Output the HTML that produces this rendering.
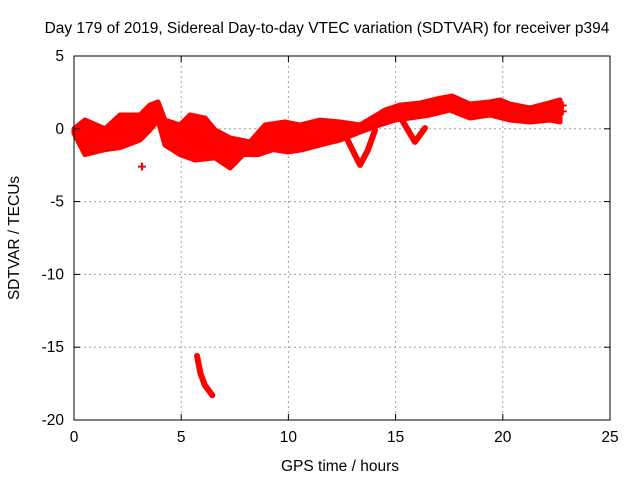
<!DOCTYPE html>
<html><head><meta charset="utf-8"><style>
body{margin:0;background:#fff;font-family:"Liberation Sans",sans-serif}
svg text{font-family:"Liberation Sans",sans-serif;font-size:15.5px;fill:#000}
</style></head><body>
<svg id="c" width="640" height="480" viewBox="0 0 640 480">
<rect width="640" height="480" fill="#fff"/>
<text x="327" y="33" text-anchor="middle">Day 179 of 2019, Sidereal Day-to-day VTEC variation (SDTVAR) for receiver p394</text>
<text x="340" y="471" text-anchor="middle">GPS time / hours</text>
<text transform="translate(19,238) rotate(-90)" text-anchor="middle">SDTVAR / TECUs</text>
<g id="grid"></g><g id="data"></g><g id="axes"></g>
</svg>
<script>
const xTicks=[0,5,10,15,20,25];
const yTicks=[5,0,-5,-10,-15,-20];
const upperT=[0,.51,1.45,2.15,3.08,3.54,3.92,4.24,4.94,5.41,6.11,6.58,7.28,8.21,8.91,9.84,10.54,11.47,12.41,13.34,14.51,15.2,16.14,17.07,17.63,18.47,19.4,19.87,20.34,21.27,21.97,22.67];
const upperV=[0,.6,0,.95,.95,1.63,1.84,.6,.26,.95,.74,-.08,-.63,-.9,.26,.47,.26,.6,.47,.26,1.29,1.63,1.77,2.1,2.25,1.7,1.84,1.98,1.7,1.43,1.7,1.98];
const lowerT=[0,.51,1.45,2.15,3.08,3.54,3.92,4.24,4.94,5.63,6.58,7.28,7.89,8.58,9.28,9.98,10.68,11.47,12.41,13.34,14.25,14.97,15.67,16.6,17.53,18.47,19.4,20.34,21.27,22.2,22.67];
const lowerV=[-.3,-1.77,-1.43,-1.29,-.77,-.08,.6,-1.11,-1.77,-2.14,-2.0,-2.69,-1.77,-1.77,-1.43,-1.59,-1.43,-1.11,-.77,-.22,.26,.6,.74,.95,1.29,.74,.95,.6,.47,.6,.47];
const dip1T=[12.7,13.34,13.7,14.04], dip1V=[-.6,-2.48,-1.49,-.1];
const dip2T=[15.3,15.9,16.37], dip2V=[.6,-.9,.05];
const tailT=[5.74,5.9,6.1,6.45], tailV=[-15.6,-16.8,-17.6,-18.3];
const isoT=[3.17,22.8,22.8], isoV=[-2.6,1.6,1.2];
const X0=74,X1=610,Y0=56,Y1=420;
const sx=t=>X0+(t-0)/25*(X1-X0);
const sy=v=>Y0+(5-v)/25*(Y1-Y0);
const NS='http://www.w3.org/2000/svg';
function mk(tag,at,parent){const e=document.createElementNS(NS,tag);for(const k in at)e.setAttribute(k,at[k]);parent.appendChild(e);return e;}
const grid=document.getElementById('grid'),data=document.getElementById('data'),axes=document.getElementById('axes');
xTicks.forEach(t=>{
 if(t>0&&t<25){const g=mk('line',{x1:sx(t),x2:sx(t),y1:Y0,y2:Y1,stroke:'#a0a0a0','stroke-dasharray':'2,3'},grid);
 
 }
 mk('line',{x1:sx(t),x2:sx(t),y1:Y1,y2:Y1-6,stroke:'#000'},axes);
 mk('line',{x1:sx(t),x2:sx(t),y1:Y0,y2:Y0+6,stroke:'#000'},axes);
 const l=mk('text',{x:sx(t),y:Y1+22,'text-anchor':'middle'},axes);l.textContent=t;
 
 
});
yTicks.forEach(v=>{
 if(v<5&&v>-20){const g=mk('line',{x1:X0,x2:X1,y1:sy(v),y2:sy(v),stroke:'#a0a0a0','stroke-dasharray':'2,3'},grid);
 
 }
 mk('line',{x1:X0,x2:X0+6,y1:sy(v),y2:sy(v),stroke:'#000'},axes);
 mk('line',{x1:X1,x2:X1-6,y1:sy(v),y2:sy(v),stroke:'#000'},axes);
 const l=mk('text',{x:X0-10,y:sy(v)+5,'text-anchor':'end'},axes);l.textContent=v;
 
 
});
const fr=mk('rect',{x:X0,y:Y0,width:X1-X0,height:Y1-Y0,fill:'none',stroke:'#000'},axes);


let pts=upperT.map((t,i)=>sx(t)+','+sy(upperV[i]));
for(let i=lowerT.length-1;i>=0;i--)pts.push(sx(lowerT[i])+','+sy(lowerV[i]));
const band=mk('polygon',{points:pts.join(' '),fill:'#ff0000',stroke:'#ff0000','stroke-width':5,'stroke-linejoin':'round'},data);


[[dip1T,dip1V,'dip-13h'],[dip2T,dip2V,'dip-16h'],[tailT,tailV,'outlier-tail']].forEach(([T,V,n])=>{
 const p=mk('polyline',{points:T.map((t,i)=>sx(t)+','+sy(V[i])).join(' '),fill:'none',stroke:'#ff0000','stroke-width':6,'stroke-linejoin':'round','stroke-linecap':'round'},data);
 
 
});
isoT.forEach((t,i)=>{
 const x=sx(t),y=sy(isoV[i]);
 const p=mk('path',{d:`M${x-4},${y}H${x+4}M${x},${y-4}V${y+4}`,stroke:'#ff0000','stroke-width':2},data);
 
 
});
</script>
</body></html>
